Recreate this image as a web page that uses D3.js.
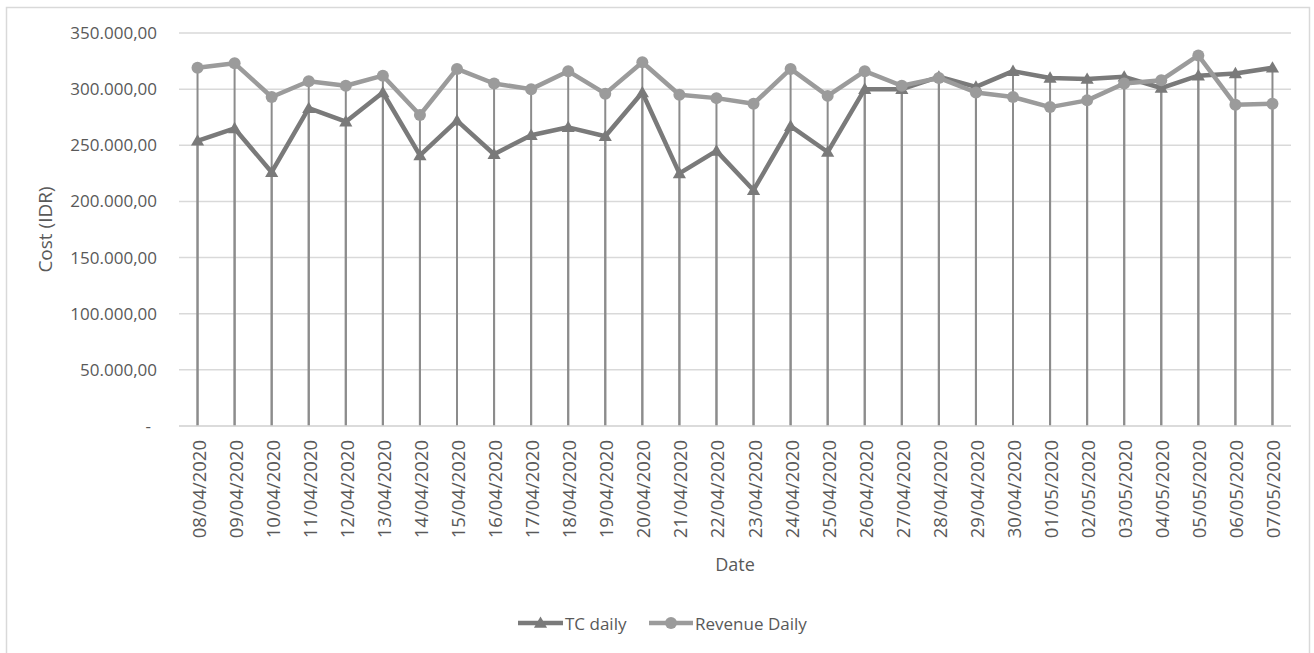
<!DOCTYPE html>
<html>
<head>
<meta charset="utf-8">
<script src="https://cdn.jsdelivr.net/npm/d3@7"></script>
<style>
  html, body { margin: 0; padding: 0; background: #ffffff; }
  svg text { font-family: "Open Sans", "Liberation Sans", sans-serif; fill: #595959; }
</style>
</head>
<body>
<svg id="chart" width="1314" height="653"></svg>
<script>
// Daily dates on the category axis
const dates = [
  "08/04/2020", "09/04/2020", "10/04/2020", "11/04/2020", "12/04/2020",
  "13/04/2020", "14/04/2020", "15/04/2020", "16/04/2020", "17/04/2020",
  "18/04/2020", "19/04/2020", "20/04/2020", "21/04/2020", "22/04/2020",
  "23/04/2020", "24/04/2020", "25/04/2020", "26/04/2020", "27/04/2020",
  "28/04/2020", "29/04/2020", "30/04/2020", "01/05/2020", "02/05/2020",
  "03/05/2020", "04/05/2020", "05/05/2020", "06/05/2020", "07/05/2020"
];

// Total cost per day (IDR)
const tcDaily = [
  254000, 265000, 226000, 283000, 271000, 297000, 241000, 272000, 242000, 259000,
  266000, 258000, 297000, 225000, 245000, 210000, 267000, 244000, 300000, 300000,
  311000, 302000, 316000, 310000, 309000, 311000, 301000, 312000, 314000, 319000
];

// Revenue per day (IDR)
const revenueDaily = [
  319000, 323000, 293000, 307000, 303000, 312000, 277000, 318000, 305000, 300000,
  316000, 296000, 324000, 295000, 292000, 287000, 318000, 294000, 316000, 303000,
  310000, 297000, 293000, 284000, 290000, 305000, 308000, 330000, 286000, 287000
];

// Value axis ticks
const yTicks = [0, 50000, 100000, 150000, 200000, 250000, 300000, 350000];

const series = [
  { name: "TC daily", values: tcDaily, color: "#7a7a7a", marker: "triangle" },
  { name: "Revenue Daily", values: revenueDaily, color: "#9b9b9b", marker: "circle" }
];

const svg = d3.select("#chart");

// Outer chart frame
svg.append("rect")
  .attr("x", 6.5).attr("y", 7.5)
  .attr("width", 1303).attr("height", 650)
  .attr("fill", "#ffffff")
  .attr("stroke", "#d9d9d9").attr("stroke-width", 1.5);

const plot = { left: 179, right: 1291, top: 33, bottom: 426 };

const x = d3.scalePoint().domain(dates).range([plot.left, plot.right]).padding(0.5);
const y = d3.scaleLinear().domain([0, 350000]).range([plot.bottom, plot.top]);

// Accounting-style number format: 350.000,00 and "-" for zero
const idr = d3.formatLocale({ decimal: ",", thousands: ".", grouping: [3], currency: ["", ""] });
const fmt = v => v === 0 ? "-" : idr.format(",.2f")(v);

// Horizontal gridlines
svg.append("g")
  .selectAll("line")
  .data(yTicks)
  .join("line")
  .attr("x1", plot.left).attr("x2", plot.right)
  .attr("y1", d => y(d)).attr("y2", d => y(d))
  .attr("stroke", "#d9d9d9").attr("stroke-width", 1.5);

// Y axis labels
const yAxis = d3.axisLeft(y).tickValues(yTicks).tickFormat(fmt).tickSize(0).tickPadding(0);
svg.append("g")
  .attr("transform", `translate(${plot.left - 22},0)`)
  .call(yAxis)
  .call(g => g.select(".domain").remove())
  .call(g => g.selectAll("text")
    .attr("font-size", 17)
    .attr("font-family", "\"Open Sans\", sans-serif")
    .attr("fill", "#595959")
    .attr("dx", d => d === 0 ? "-6" : "0"));

// X axis labels, rotated
const xAxis = d3.axisBottom(x).tickSize(0).tickPadding(0);
svg.append("g")
  .attr("transform", `translate(0,${plot.bottom})`)
  .call(xAxis)
  .call(g => g.select(".domain").remove())
  .call(g => g.selectAll(".tick text")
    .attr("font-size", 18.5)
    .attr("font-family", "\"Open Sans\", sans-serif")
    .attr("fill", "#595959")
    .attr("text-anchor", "end")
    .attr("dominant-baseline", "central")
    .attr("x", 0).attr("y", 0).attr("dy", null)
    .attr("transform", "translate(0,14) rotate(-90)"));

// Drop lines from every point down to the category axis
series.forEach(s => {
  svg.append("g")
    .selectAll("line")
    .data(s.values)
    .join("line")
    .attr("x1", (d, i) => x(dates[i])).attr("x2", (d, i) => x(dates[i]))
    .attr("y1", d => y(d)).attr("y2", plot.bottom)
    .attr("stroke", "#8c8c8c").attr("stroke-width", 2);
});

// Category axis line
svg.append("line")
  .attr("x1", plot.left).attr("x2", plot.right)
  .attr("y1", plot.bottom).attr("y2", plot.bottom)
  .attr("stroke", "#d9d9d9").attr("stroke-width", 1.5);

const triangle = d3.symbol().type(d3.symbolTriangle).size(75);

function drawMarker(g, type, cx, cy, color) {
  if (type === "circle") {
    g.append("circle").attr("cx", cx).attr("cy", cy).attr("r", 6).attr("fill", color);
  } else {
    g.append("path").attr("d", triangle()).attr("transform", `translate(${cx},${cy + 1})`).attr("fill", color);
  }
}

// Series lines with markers
const line = d3.line().x((d, i) => x(dates[i])).y(d => y(d));
series.forEach(s => {
  const g = svg.append("g");
  g.append("path")
    .datum(s.values)
    .attr("d", line)
    .attr("fill", "none")
    .attr("stroke", s.color)
    .attr("stroke-width", 4.5)
    .attr("stroke-linejoin", "round");
  s.values.forEach((v, i) => drawMarker(g, s.marker, x(dates[i]), y(v), s.color));
});

// Axis titles
svg.append("text")
  .attr("transform", `translate(45,${(plot.top + plot.bottom) / 2}) rotate(-90)`)
  .attr("text-anchor", "middle")
  .attr("dominant-baseline", "central")
  .attr("font-size", 19)
  .text("Cost (IDR)");

svg.append("text")
  .attr("x", x(dates[14]) + (x(dates[15]) - x(dates[14])) / 2)
  .attr("y", 564)
  .attr("text-anchor", "middle")
  .attr("dominant-baseline", "central")
  .attr("font-size", 18)
  .text("Date");

// Legend
const legendItems = [
  { s: series[0], x0: 518, x1: 563, tx: 565 },
  { s: series[1], x0: 649, x1: 693, tx: 695 }
];
const legend = svg.append("g");
legendItems.forEach(it => {
  const ly = 623;
  legend.append("line")
    .attr("x1", it.x0).attr("x2", it.x1)
    .attr("y1", ly).attr("y2", ly)
    .attr("stroke", it.s.color).attr("stroke-width", 4.5);
  drawMarker(legend, it.s.marker, (it.x0 + it.x1) / 2, ly, it.s.color);
  legend.append("text")
    .attr("x", it.tx).attr("y", ly)
    .attr("dominant-baseline", "central")
    .attr("font-size", 17)
    .text(it.s.name);
});
</script>
</body>
</html>
